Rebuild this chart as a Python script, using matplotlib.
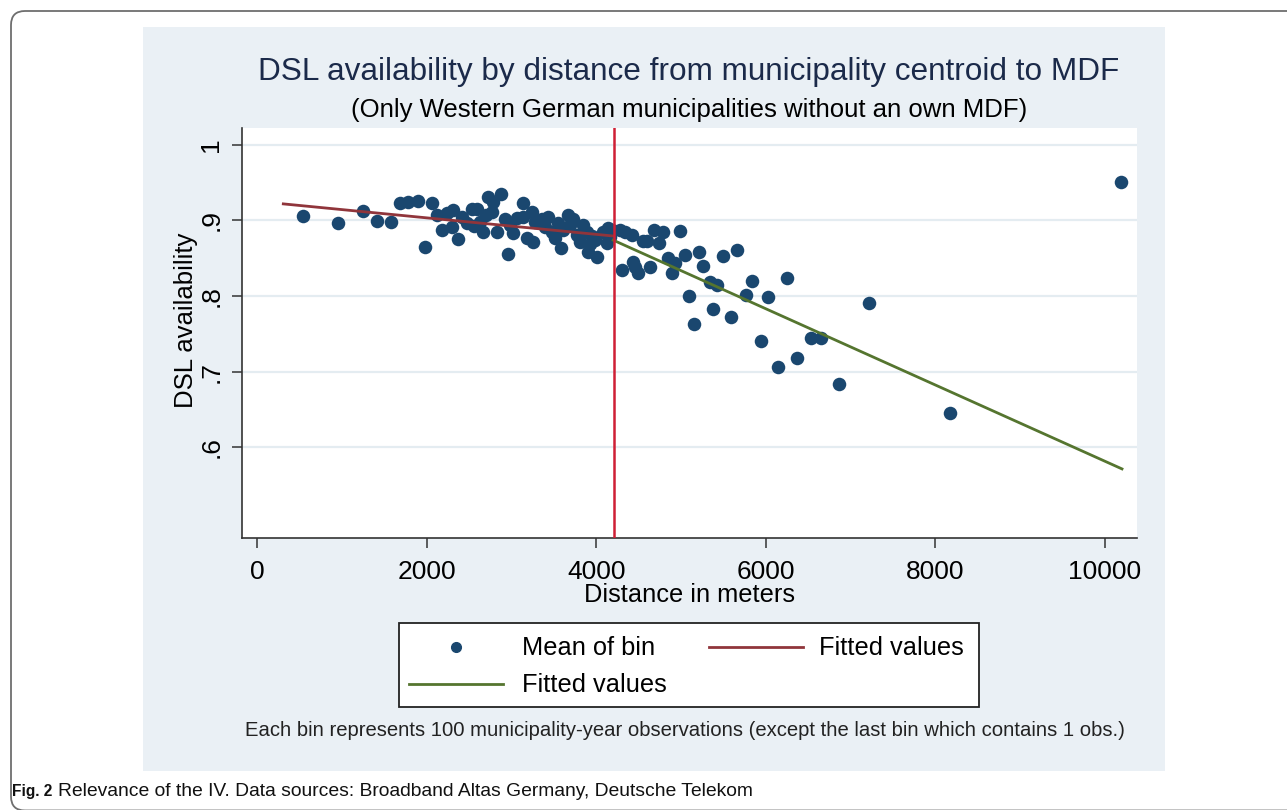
import matplotlib
matplotlib.use("Agg")
import matplotlib.pyplot as plt
from matplotlib.patches import FancyBboxPatch, Rectangle
from matplotlib.lines import Line2D

plt.rcParams['font.family'] = ['Liberation Sans', 'DejaVu Sans']

# ---- data ----
dist_m = [542, 955, 1246, 1415, 1580, 1686, 1784, 1902, 2060, 1981, 2119, 2178, 2237, 2296, 2315,
          2374, 2414, 2473, 2532, 2598, 2630, 2669, 2728, 2787, 2874, 2768, 2827, 2925, 2963, 3022,
          3063, 3140, 3180, 3258, 3140, 3239, 3357, 3396, 3475, 3553, 3581, 3671, 3691, 3770, 3809,
          3888, 3907, 4006, 3986, 4084, 4124, 4183, 4143,
          2559, 2700, 2983, 3278, 3432, 3608, 3726, 3844, 3950, 4163, 3514, 3927,
          4281, 4340, 4419, 4548, 4596, 4682, 4791, 4744, 4988, 4301, 4430, 4458, 4497, 4634,
          4850, 4929, 4890, 5047, 5216, 5263, 5342, 5421, 5094, 5492, 5660, 5381, 5586, 5156,
          5834, 5761, 6030, 6246, 5938, 6138, 6368, 6527, 6649, 6867, 7221, 8172, 10189]
dsl_mean = [0.9053, 0.8971, 0.9126, 0.8993, 0.8974, 0.9236, 0.9249, 0.9258, 0.9228, 0.8653, 0.9073,
            0.8874, 0.9103, 0.8918, 0.9139, 0.8751, 0.9050, 0.8963, 0.9148, 0.9148, 0.8984, 0.8852,
            0.9307, 0.9249, 0.9347, 0.9117, 0.8852, 0.9016, 0.8556, 0.8838, 0.9029, 0.9236, 0.8764,
            0.8719, 0.9050, 0.9117, 0.9016, 0.8918, 0.8852, 0.8963, 0.8632, 0.9073, 0.8940, 0.8808,
            0.8719, 0.8852, 0.8587, 0.8521, 0.8742, 0.8852, 0.8698, 0.8874, 0.8897,
            0.8927, 0.9073, 0.8940, 0.8980, 0.9046, 0.8874, 0.9020, 0.8940, 0.8795, 0.8781, 0.8768,
            0.8689,
            0.8874, 0.8852, 0.8808, 0.8733, 0.8733, 0.8874, 0.8852, 0.8698, 0.8865, 0.8344, 0.8454,
            0.8388, 0.8301, 0.8380, 0.8507, 0.8433, 0.8301, 0.8543, 0.8587, 0.8397, 0.8189, 0.8146,
            0.8000, 0.8536, 0.8609, 0.7828, 0.7726, 0.7623, 0.8205, 0.8009, 0.7983, 0.8242, 0.7408,
            0.7060, 0.7185, 0.7450, 0.7450, 0.6834, 0.7911, 0.6450, 0.9510]

fit_near_x = [310, 4195]
fit_near_y = [0.922, 0.8795]
fit_far_x = [4200, 10200]
fit_far_y = [0.874, 0.571]
cutoff_m = 4210

x_ticks = [0, 2000, 4000, 6000, 8000, 10000]
y_ticks = [0.6, 0.7, 0.8, 0.9, 1.0]
y_tick_labels = ['.6', '.7', '.8', '.9', '1']

title = "DSL availability by distance from municipality centroid to MDF"
subtitle = "(Only Western German municipalities without an own MDF)"
note = ("Each bin represents 100 municipality-year observations "
        "(except the last bin which contains 1 obs.)")
caption_bold = "Fig. 2"
caption = "Relevance of the IV. Data sources: Broadband Altas Germany, Deutsche Telekom"

NAVY = '#1a476f'
MAROON = '#90353b'
GREEN = '#55752f'
VRED = '#cf1f35'
BG = '#eaf0f5'

W, H = 1287, 810
fig = plt.figure(figsize=(W / 100, H / 100), dpi=100)

# background / page overlay in pixel coordinates
bg = fig.add_axes([0, 0, 1, 1], zorder=0)
bg.set_xlim(0, W)
bg.set_ylim(H, 0)
bg.axis('off')
bg.add_patch(FancyBboxPatch((11, 11), 1320, 799.5, boxstyle="round,pad=0,rounding_size=14",
                            fc='white', ec='#6e6e6e', lw=1.3))
bg.add_patch(Rectangle((143, 27), 1022, 744, fc=BG, ec='none'))

bg.text(689, 72, title, ha='center', va='center', fontsize=22.7, color='#1b2a4a')
bg.text(689, 110, subtitle, ha='center', va='center', fontsize=18.5, color='black')
bg.text(689, 595, "Distance in meters", ha='center', va='center', fontsize=18.3, color='black')
bg.text(186, 320, "DSL availability", ha='center', va='center', rotation=90,
        fontsize=18.5, color='black')
bg.text(685, 731, note, ha='center', va='center', fontsize=14.6, color='#222222')

# legend drawn in pixel coordinates
bg.add_patch(Rectangle((399, 623), 580, 84, fc='white', ec='#222222', lw=1.3))
bg.add_line(Line2D([456], [647], marker='o', ms=7, color=NAVY, ls='none'))
bg.text(522, 648, "Mean of bin", ha='left', va='center', fontsize=18.3)
bg.add_line(Line2D([709, 803], [647, 647], color=MAROON, lw=2))
bg.text(819, 648, "Fitted values", ha='left', va='center', fontsize=18.3)
bg.add_line(Line2D([409, 503], [684, 684], color=GREEN, lw=2))
bg.text(522, 685, "Fitted values", ha='left', va='center', fontsize=18.3)

# caption
bg.text(12, 796, caption_bold, ha='left', va='baseline', fontsize=11.2, fontweight='bold',
        color='#111111')
bg.text(58, 796, caption, ha='left', va='baseline', fontsize=13.9, color='#111111')

# main plot
ax = fig.add_axes([242 / W, 1 - 538 / H, (1137 - 242) / W, (538 - 128) / H], zorder=1)
ax.set_facecolor('white')
ax.set_xlim(-177, 10377)
ax.set_ylim(0.4795, 1.0225)
for s in ['top', 'right']:
    ax.spines[s].set_visible(False)
for s in ['left', 'bottom']:
    ax.spines[s].set_color('#333333')
    ax.spines[s].set_linewidth(1.2)
ax.set_yticks(y_ticks)
ax.set_yticklabels(y_tick_labels, rotation=90, va='center')
ax.set_xticks(x_ticks)
ax.tick_params(axis='y', direction='out', length=7.5, width=1.1, pad=6, labelsize=19,
               color='#333333')
ax.tick_params(axis='x', direction='out', length=7.5, width=1.1, pad=8, labelsize=19,
               color='#333333')
ax.grid(axis='y', color='#e4ecf1', lw=1.6)
ax.set_axisbelow(True)

ax.scatter(dist_m, dsl_mean, s=95, color=NAVY, zorder=3, linewidths=0)
ax.plot(fit_near_x, fit_near_y, color=MAROON, lw=2, zorder=4)
ax.plot(fit_far_x, fit_far_y, color=GREEN, lw=2, zorder=4)
ax.axvline(cutoff_m, color=VRED, lw=1.8, zorder=5)

fig.savefig('out.png', dpi=100)
